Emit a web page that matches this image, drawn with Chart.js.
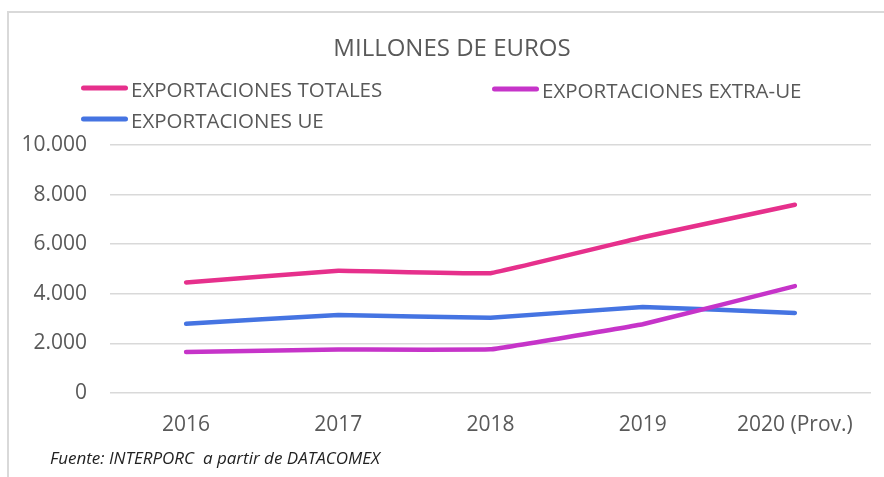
<!DOCTYPE html>
<html>
<head>
<meta charset="utf-8">
<script src="https://cdn.jsdelivr.net/npm/chart.js@4/dist/chart.umd.min.js"></script>
<style>
  html, body { margin: 0; padding: 0; background: #fff; }
  #wrap { position: relative; width: 884px; height: 477px; overflow: hidden; font-family: "Open Sans", sans-serif; color: #595959; }
  #frame { position: absolute; left: 7px; top: 11px; width: 890px; height: 480px; border-left: 2px solid #d9d9d9; border-top: 2px solid #d9d9d9; box-sizing: border-box; }
  canvas { position: absolute; left: 0; top: 0; }
  .txt { position: absolute; white-space: nowrap; line-height: 1; transform: translateY(-50%); }
  .sw { position: absolute; height: 5px; border-radius: 3px; width: 47px; transform: translateY(-50%); }
</style>
</head>
<body>
<div id="wrap">
  <div id="frame"></div>
  <canvas id="c" width="884" height="477"></canvas>
  <div id="title" class="txt" style="left:0;width:904px;text-align:center;top:47px;font-size:24px;">MILLONES DE EUROS</div>
  <div id="legend"></div>
  <div id="foot" class="txt" style="left:50px;top:457px;font-size:17px;font-style:italic;color:#222;">Fuente: INTERPORC&nbsp; a partir de DATACOMEX</div>
</div>
<script>
const categories = ["2016", "2017", "2018", "2019", "2020 (Prov.)"];
const seriesNames = ["EXPORTACIONES TOTALES", "EXPORTACIONES EXTRA-UE", "EXPORTACIONES UE"];
const totales = [4460, 4930, 4830, 6280, 7590];
const extraUE = [1650, 1750, 1760, 2770, 4310];
const ue = [2790, 3150, 3030, 3470, 3230];
const yTicks = [0, 2000, 4000, 6000, 8000, 10000];
const colors = ["#E6308C", "#C634C9", "#4574E2"];

// legend (HTML, built from series names)
const legendPos = [
  { sx: 81, tx: 131, y: 88 },
  { sx: 492, tx: 542, y: 89 },
  { sx: 81, tx: 131, y: 119 }
];
const leg = document.getElementById('legend');
seriesNames.forEach((n, i) => {
  const p = legendPos[i];
  const sw = document.createElement('div');
  sw.className = 'sw';
  sw.style.left = p.sx + 'px';
  sw.style.top = p.y + 'px';
  sw.style.background = colors[i];
  leg.appendChild(sw);
  const t = document.createElement('div');
  t.className = 'txt';
  t.style.left = p.tx + 'px';
  t.style.top = (p.y + 1) + 'px';
  t.style.fontSize = '20.5px';
  t.textContent = n;
  leg.appendChild(t);
});

const fmt = v => v.toLocaleString('de-DE');

new Chart(document.getElementById('c'), {
  type: 'line',
  data: {
    labels: categories,
    datasets: [
      { label: seriesNames[0], data: totales, borderColor: colors[0] },
      { label: seriesNames[1], data: extraUE, borderColor: colors[1] },
      { label: seriesNames[2], data: ue, borderColor: colors[2] }
    ].map(d => Object.assign(d, {
      borderWidth: 4.5, pointRadius: 0, tension: 0.05,
      borderCapStyle: 'round', borderJoinStyle: 'round', fill: false
    }))
  },
  options: {
    responsive: false,
    animation: false,
    layout: { padding: { left: 0, top: 145, right: 13, bottom: 0 } },
    plugins: { legend: { display: false }, title: { display: false }, tooltip: { enabled: false } },
    scales: {
      x: {
        offset: true,
        grid: { display: false, drawTicks: false },
        border: { display: false },
        ticks: { color: '#595959', font: { family: 'Open Sans', size: 21 }, padding: 19, maxRotation: 0 },
        afterFit: s => { s.height = 84; }
      },
      y: {
        min: 0, max: 10000,
        afterBuildTicks: s => { s.ticks = yTicks.map(v => ({ value: v })); },
        grid: { color: '#d9d9d9', lineWidth: 1.5, drawTicks: false },
        border: { display: false },
        ticks: { color: '#595959', font: { family: 'Open Sans', size: 21 }, padding: 23, callback: v => fmt(v) },
        afterFit: s => { s.width = 110; }
      }
    }
  }
});
</script>
</body>
</html>
